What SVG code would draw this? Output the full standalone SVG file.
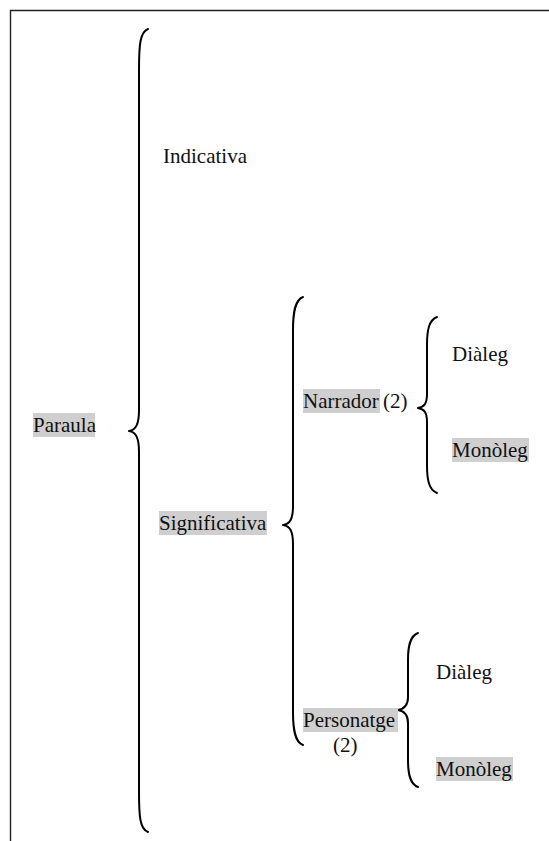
<svg xmlns="http://www.w3.org/2000/svg" width="549" height="841" viewBox="0 0 549 841">
  <style>
    text { font-family: "Liberation Serif", "Times New Roman", serif; font-size: 21px; fill: #111; }
    .hl { fill: #cfcfcf; }
    .brace { fill: none; stroke: #000; stroke-width: 2; stroke-linecap: round; stroke-linejoin: round; }
    .frame { fill: none; stroke: #222; stroke-width: 1.4; }
  </style>
  <rect width="549" height="841" fill="#fff"/>
  <!-- page frame: top and left rules -->
  <path class="frame" d="M10.5,841 L10.5,10.5 L549,10.5"/>

  <g id="connectors">
    <!-- Paraula brace -->
    <path class="brace" d="M148,29 C140,32 139,45 139,70 L139,410 C139,424 136,430 129,431 C136,432 139,438 139,452 L139,792 C139,817 140,829 148,832"/>
    <!-- Significativa brace -->
    <path class="brace" d="M303,297 C295,300 293,312 293,330 L293,506 C293,519 290,524 283,525 C290,526 293,531 293,544 L293,712 C293,730 295,742 303,745"/>
    <!-- Narrador brace -->
    <path class="brace" d="M437,317 C429,320 427,330 427,345 L427,394 C427,404 424,407 418,408 C424,409 427,412 427,422 L427,465 C427,480 429,490 437,493"/>
    <!-- Personatge brace -->
    <path class="brace" d="M418,633 C410,636 408,646 408,660 L408,697 C408,706 404,709 398,710 C404,711 408,714 408,723 L408,760 C408,774 410,784 418,787"/>
  </g>

  <g id="paraula">
    <rect class="hl" x="33" y="413" width="62" height="24"/>
    <text x="33" y="432">Paraula</text>
  </g>

  <g id="indicativa">
    <text x="163" y="163">Indicativa</text>
  </g>

  <g id="significativa">
    <rect class="hl" x="159" y="511" width="108" height="24"/>
    <text x="159" y="530">Significativa</text>
  </g>

  <g id="narrador">
    <rect class="hl" x="303" y="389" width="77" height="24"/>
    <text x="303" y="408">Narrador</text>
    <text x="383" y="408">(2)</text>
  </g>

  <g id="narrador-dialeg">
    <text x="452" y="361">Diàleg</text>
  </g>

  <g id="narrador-monoleg">
    <rect class="hl" x="452" y="438" width="77" height="24"/>
    <text x="452" y="457">Monòleg</text>
  </g>

  <g id="personatge">
    <rect class="hl" x="303" y="708" width="95" height="24"/>
    <text x="303" y="727">Personatge</text>
    <text x="333" y="752">(2)</text>
  </g>

  <g id="personatge-dialeg">
    <text x="436" y="679">Diàleg</text>
  </g>

  <g id="personatge-monoleg">
    <rect class="hl" x="436" y="757" width="77" height="24"/>
    <text x="436" y="776">Monòleg</text>
  </g>
</svg>
